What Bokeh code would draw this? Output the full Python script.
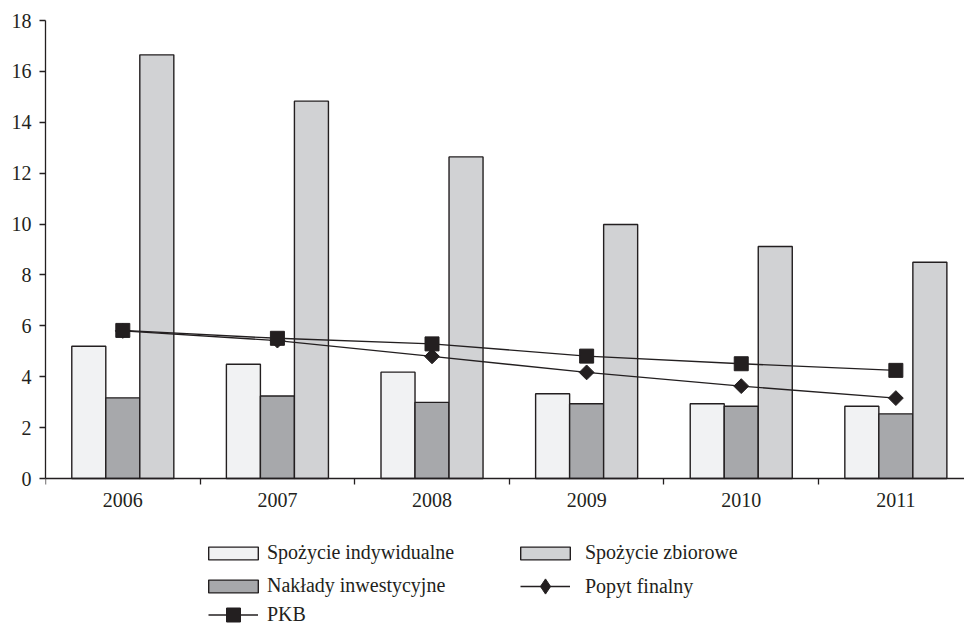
from bokeh.plotting import figure
from bokeh.models import Range1d, FixedTicker, Legend, LegendItem, ColumnDataSource
from bokeh.embed import file_html
from bokeh.resources import INLINE
import numpy as np

# Growth indices by year
years = ["2006", "2007", "2008", "2009", "2010", "2011"]
spozycie_indywidualne = [5.20, 4.49, 4.18, 3.33, 2.94, 2.84]
naklady_inwestycyjne = [3.17, 3.24, 2.99, 2.94, 2.84, 2.54]
spozycie_zbiorowe = [16.65, 14.83, 12.64, 9.98, 9.12, 8.50]
pkb = [5.82, 5.51, 5.29, 4.81, 4.51, 4.25]
popyt_finalny = [5.80, 5.42, 4.80, 4.17, 3.63, 3.16]
y_ticks = list(range(0, 19, 2))

INK = "#231f20"
FONT = "Liberation Serif"
BAR_W = 0.22
PX_PER_UNIT = 458 / 18          # vertical scale of the value axis
Y_MIN = -605 / PX_PER_UNIT + 18  # room under zero for the legend

centers = [i + 0.5 for i in range(len(years))]
src = ColumnDataSource(dict(
    x_ind=[c - BAR_W for c in centers],
    x_inw=centers,
    x_zb=[c + BAR_W for c in centers],
    ind=spozycie_indywidualne,
    inw=naklady_inwestycyjne,
    zb=spozycie_zbiorowe,
    xc=centers,
    pkb=pkb,
    popyt=popyt_finalny,
))

p = figure(width=964, height=625, output_backend="svg", toolbar_location=None,
           x_range=Range1d(0, 5.944), y_range=Range1d(Y_MIN, 18),
           min_border_left=45, min_border_right=0, min_border_top=20,
           min_border_bottom=0)
p.outline_line_color = None
p.background_fill_color = "white"
p.border_fill_color = "white"
p.xgrid.visible = False
p.ygrid.visible = False

bar_kw = dict(width=BAR_W, bottom=0, line_color=INK, line_width=1.4, source=src)
r_ind = p.vbar(x="x_ind", top="ind", fill_color="#f1f2f3", **bar_kw)
r_inw = p.vbar(x="x_inw", top="inw", fill_color="#a7a8ab", **bar_kw)
r_zb = p.vbar(x="x_zb", top="zb", fill_color="#d1d2d4", **bar_kw)

l_pop = p.line("xc", "popyt", line_color=INK, line_width=1.4, source=src)
l_pkb = p.line("xc", "pkb", line_color=INK, line_width=1.4, source=src)
m_pop = p.scatter("xc", "popyt", marker="square", angle=np.pi / 4, size=10.5,
                  fill_color=INK, line_color=INK, source=src)
m_pkb = p.scatter("xc", "pkb", marker="square", size=14,
                  fill_color=INK, line_color=INK, source=src)
# diamond symbol used for the legend key (legend keys are never rotated)
m_pop_key = p.scatter("xc", "popyt", marker="diamond", fill_color=INK,
                      line_color=INK, source=src, visible=False)

# y axis, drawn only over the value range
ya = p.yaxis[0]
ya.ticker = FixedTicker(ticks=y_ticks, minor_ticks=[])
ya.bounds = (0, 18)
ya.major_tick_out = 6
ya.major_tick_in = 0
ya.major_label_standoff = 8
for ax in (p.xaxis[0], ya):
    ax.axis_line_color = INK
    ax.axis_line_width = 1.3
    ax.major_tick_line_color = INK
    ax.major_tick_line_width = 1.3
    ax.minor_tick_line_color = INK
    ax.minor_tick_line_width = 1.3
    ax.major_label_text_font = FONT
    ax.major_label_text_font_size = "20px"
    ax.major_label_text_color = INK

# x axis at zero: labels at category centres, tick marks at category boundaries
xa = p.xaxis[0]
xa.fixed_location = 0
xa.ticker = FixedTicker(ticks=centers, minor_ticks=list(range(len(years) + 1)))
xa.major_label_overrides = {c: y for c, y in zip(centers, years)}
xa.major_tick_line_color = None
xa.major_tick_out = 0
xa.major_tick_in = 0
xa.minor_tick_out = 6
xa.minor_tick_in = 0
xa.major_label_standoff = 8


def make_legend(label, renderers, loc, gw, gh, standoff):
    lg = Legend(items=[LegendItem(label=label, renderers=renderers)],
                location=loc, glyph_width=gw, glyph_height=gh,
                label_standoff=standoff, padding=0, margin=0, spacing=0,
                border_line_color=None, background_fill_alpha=0,
                inactive_fill_alpha=0)
    lg.label_text_font = FONT
    lg.label_text_font_size = "20px"
    lg.label_text_color = INK
    p.add_layout(lg, "center")


make_legend("Spożycie indywidualne", [r_ind], (157, 61), 62, 16, 3)
make_legend("Nakłady inwestycyjne", [r_inw], (157, 28), 62, 16, 3)
make_legend("PKB", [l_pkb, m_pkb], (163, -7), 50, 35, 9)
make_legend("Spożycie zbiorowe", [r_zb], (469, 61), 62, 16, 9)
make_legend("Popyt finalny", [l_pop, m_pop_key], (475, 20), 50, 38, 15)

open("out.html", "w").write(file_html(p, INLINE))
